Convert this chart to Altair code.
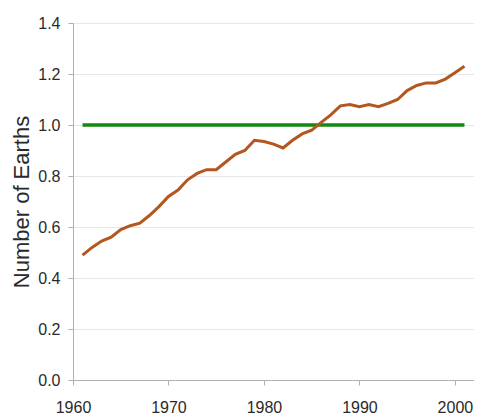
import altair as alt
import pandas as pd

years = list(range(1961, 2002))
earths = [0.49, 0.52, 0.545, 0.56, 0.59, 0.605, 0.615, 0.645, 0.68, 0.72,
          0.745, 0.785, 0.81, 0.825, 0.825, 0.855, 0.885, 0.90, 0.94, 0.935,
          0.925, 0.91, 0.94, 0.965, 0.98, 1.01, 1.04, 1.075, 1.08, 1.072,
          1.08, 1.072, 1.085, 1.10, 1.135, 1.155, 1.165, 1.165, 1.18, 1.205,
          1.23]
capacity_years = [1961, 2001]
capacity = [1.0, 1.0]
x_ticks = [1960, 1970, 1980, 1990, 2000]
y_ticks = [0.0, 0.2, 0.4, 0.6, 0.8, 1.0, 1.2, 1.4]

df = pd.DataFrame({"year": years, "earths": earths})
cap = pd.DataFrame({"year": capacity_years, "earths": capacity})

font = "Liberation Sans"

x = alt.X("year:Q",
          scale=alt.Scale(domain=[1960, 2002], nice=False, zero=False),
          axis=alt.Axis(values=x_ticks, format="d", title=None, grid=False,
                        labelFontSize=16, labelFont=font, labelColor="#2a2a2a",
                        labelPadding=14, tickSize=5, tickColor="#b0b0b0",
                        domainColor="#b0b0b0", labelFlush=False))
y = alt.Y("earths:Q",
          scale=alt.Scale(domain=[0, 1.4], nice=False),
          axis=alt.Axis(values=y_ticks, format=".1f", title="Number of Earths",
                        titleFontSize=22, titleFont=font, titleFontWeight="normal",
                        titleColor="#2a2a2a", titlePadding=4,
                        labelFontSize=16, labelFont=font, labelColor="#2a2a2a",
                        labelPadding=8, tickSize=5, tickColor="#b0b0b0",
                        domainColor="#b0b0b0", gridColor="#e8e8e8"))

green = alt.Chart(cap).mark_line(color="#108a10", strokeWidth=3.5).encode(x=x, y=y)
brown = alt.Chart(df).mark_line(color="#b4561f", strokeWidth=3).encode(x=x, y=y)

chart = alt.layer(green, brown).properties(
    width=401, height=357,
    autosize=alt.AutoSizeParams(type="none"),
    padding={"left": 65, "top": 15, "right": 0, "bottom": 39},
).configure_view(stroke=None).configure(background="white")

chart.save("out.html", embed_options={"renderer": "svg", "actions": False})
